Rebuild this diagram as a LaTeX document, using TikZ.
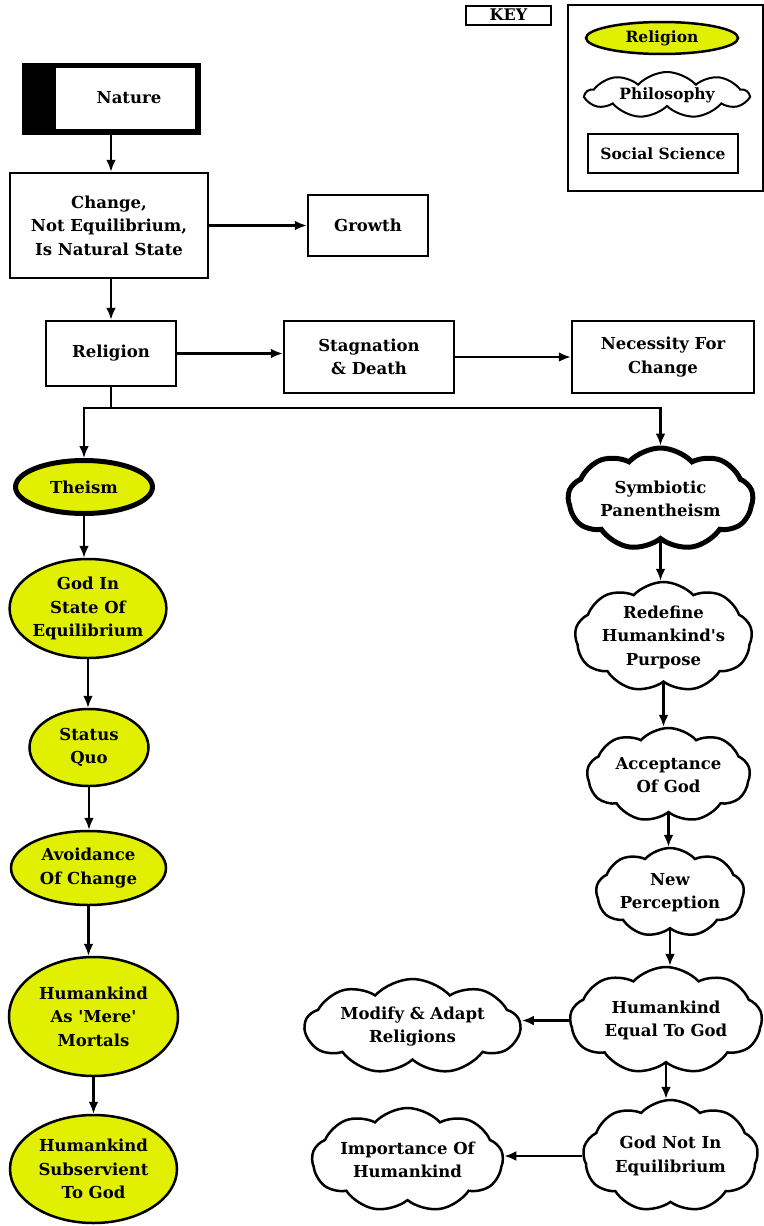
\documentclass[tikz,border=0pt]{standalone}
\usepackage{fontspec}
\setmainfont{DejaVu Serif}[Ligatures=TeXOff]
\usetikzlibrary{shapes.geometric,shapes.symbols,arrows.meta}
\definecolor{relyellow}{RGB}{225,240,0}
\begin{document}
\begin{tikzpicture}[x=1pt,y=-1pt,
  lbl/.style={font=\bfseries\fontsize{16.5}{23.5}\selectfont, align=center},
  box/.style={lbl, draw, line width=2.5pt, fill=white, inner sep=0pt},
  rel/.style={lbl, ellipse, draw, line width=2.5pt, fill=relyellow, inner sep=0pt},
  phil/.style={lbl, cloud, cloud puffs=9, cloud puff arc=95, cloud ignores aspect, draw, line width=2.5pt, fill=white, inner sep=0pt},
  arr/.style={line width=2.5pt, -{Latex[length=12pt,width=10pt]}},
  conn/.style={line width=2.5pt},
  keylbl/.style={font=\bfseries\fontsize{15.5}{18}\selectfont}
]
\useasboundingbox (0,0) rectangle (763,1226);

% KEY
\node[draw, line width=2pt, minimum width=85, minimum height=19, inner sep=0pt, font=\bfseries\fontsize{16}{16}\selectfont] (keytitle) at (508.5,15) {KEY};
\node[draw, line width=2pt, minimum width=195, minimum height=186, inner sep=0pt] (keyframe) at (665.5,98) {};
\node[rel, keylbl, minimum width=152, minimum height=32] (keyrel) at (662,38) {Religion};
\node[phil, keylbl, line width=2pt, minimum width=162, minimum height=46] (keyphil) at (667,95) {Philosophy};
\node[box, keylbl, minimum width=150, minimum height=39] (keysoc) at (663,153.5) {Social Science};

% Top boxes
\node[box, line width=3.5pt, minimum width=172, minimum height=65] (nature) at (111,98.5) {};
\fill (nature.north west) rectangle ([xshift=33pt]nature.south west);
\draw[line width=3.5pt] (nature.north west) rectangle (nature.south east);
\node[lbl] (naturetext) at (129,98) {Nature};

\node[box, minimum width=198, minimum height=105] (change) at (109,225.5) {Change,\\Not Equilibrium,\\Is Natural State};
\node[box, minimum width=120, minimum height=61] (growth) at (368,225.5) {Growth};
\node[box, minimum width=130, minimum height=65] (religion) at (111,353.5) {Religion};
\node[box, minimum width=170, minimum height=72] (stagnation) at (369,357) {Stagnation\\\& Death};
\node[box, minimum width=182, minimum height=72] (necessity) at (663,357) {Necessity For\\Change};

% Left column (religion)
\node[rel, line width=5pt, minimum width=137, minimum height=53] (theism) at (84,487) {Theism};
\node[rel, minimum width=143, minimum height=99] (godeq) at (88,608.5) {God In\\State Of\\Equilibrium};
\node[rel, minimum width=119, minimum height=77] (status) at (89,747.5) {Status\\Quo};
\node[rel, minimum width=155, minimum height=74] (avoid) at (88.5,868) {Avoidance\\Of Change};
\node[rel, minimum width=169, minimum height=119] (mere) at (93.5,1016.5) {Humankind\\As 'Mere'\\Mortals};
\node[rel, minimum width=167, minimum height=108] (subserv) at (93.5,1169) {Humankind\\Subservient\\To God};

% Right column (philosophy)
\node[phil, line width=5pt, minimum width=185, minimum height=102] (symb) at (660.5,499) {Symbiotic\\Panentheism};
\node[phil, minimum width=171, minimum height=110] (redefine) at (663.5,637) {Redefine\\Humankind's\\Purpose};
\node[phil, minimum width=163, minimum height=94] (accept) at (668.5,775) {Acceptance\\Of God};
\node[phil, minimum width=148, minimum height=89] (newperc) at (670,892.5) {New\\Perception};
\node[phil, minimum width=192, minimum height=107] (equal) at (666,1020.5) {Humankind\\Equal To God};
\node[phil, minimum width=175, minimum height=112] (godnot) at (670.5,1156) {God Not In\\Equilibrium};
\node[phil, minimum width=215, minimum height=95] (modify) at (412.5,1026.5) {Modify \& Adapt\\Religions};
\node[phil, minimum width=191, minimum height=104] (importance) at (407.5,1160) {Importance Of\\Humankind};

% Connectors
\draw[arr] (nature.south) -- (nature.south |- change.north);
\draw[arr] (change.east |- growth.west) -- (growth.west);
\draw[arr] (change.south -| religion.north) -- (religion.north);
\draw[arr] (religion.east) -- (stagnation.west |- religion.east);
\draw[arr] (stagnation.east) -- (necessity.west);
\coordinate (split) at (111,408);
\draw[conn] (religion.south) -- (split);
\draw[arr] (split) -| (theism.north);
\draw[arr] (split) -| (symb.north);

\draw[arr] (theism.south) -- (theism.south |- godeq.north);
\draw[arr] (godeq.south) -- (godeq.south |- status.north);
\draw[arr] (status.south) -- (status.south |- avoid.north);
\draw[arr] (avoid.south) -- (avoid.south |- mere.north);
\draw[arr] (mere.south) -- (subserv.north);

\draw[arr] (symb.south) -- (symb.south |- redefine.north);
\draw[arr] (redefine.south) -- (redefine.south |- accept.north);
\draw[arr] (accept.south) -- (accept.south |- newperc.north);
\draw[arr] (newperc.south) -- (newperc.south |- equal.north);
\draw[arr] (equal.south) -- (equal.south |- godnot.north);
\draw[arr] (equal.west) -- (modify.east |- equal.west);
\draw[arr] (godnot.west) -- (importance.east |- godnot.west);
\end{tikzpicture}
\end{document}
